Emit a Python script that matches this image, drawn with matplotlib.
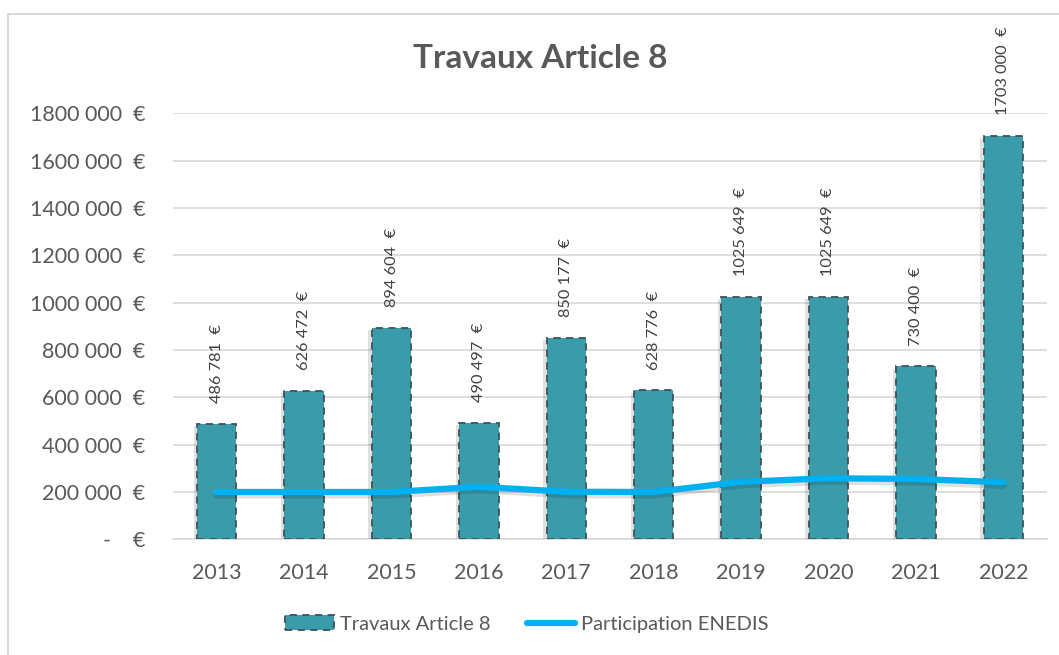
import matplotlib
matplotlib.use("Agg")
import matplotlib.pyplot as plt
import matplotlib.patheffects as pe
from matplotlib.patches import Rectangle
from matplotlib.lines import Line2D
from matplotlib.patches import Patch

plt.rcParams['font.family'] = ['Lato', 'DejaVu Sans']

years = ['2013', '2014', '2015', '2016', '2017', '2018', '2019', '2020', '2021', '2022']
travaux = [486781, 626472, 894604, 490497, 850177, 628776, 1025649, 1025649, 730400, 1703000]
enedis = [200000, 200000, 200000, 222000, 201000, 200000, 243000, 258000, 255000, 241000]
yticks = [0, 200000, 400000, 600000, 800000, 1000000, 1200000, 1400000, 1600000, 1800000]

def fmt_tick(v):
    if v == 0:
        return "-    €"
    s = f"{v:,}".replace(",", " ")
    s = s.replace(" ", "", 1) if v >= 1000000 else s
    return s + "  €"

def fmt_label(v):
    s = f"{v:,}".replace(",", " ")
    if v >= 1000000:
        s = s.replace(" ", "", 1)
    return s + "  €"

W, H = 1059, 655
fig = plt.figure(figsize=(W / 100, H / 100), dpi=100)
ax = fig.add_axes([173 / W, 1 - 539.3 / H, (1047 - 173) / W, (539.3 - 113.3) / H])

bar_color = '#3A9BAA'
line_color = '#00B0F0'
text_color = '#595959'

x = list(range(len(years)))
bars = ax.bar(x, travaux, width=0.45, color=bar_color, edgecolor='#3F5257',
              linewidth=1.3, linestyle=(0, (4, 3)), zorder=3,
              path_effects=[pe.SimplePatchShadow(offset=(-2.5, -1.5), alpha=0.12, shadow_rgbFace='#000000'), pe.Normal()])

ax.plot(x, enedis, color=line_color, linewidth=4.5, solid_capstyle='round',
        solid_joinstyle='round', zorder=4,
        path_effects=[pe.SimpleLineShadow(offset=(0, -2.5), alpha=0.12, shadow_color='#000000'), pe.Normal()])

for xi, v in zip(x, travaux):
    ax.annotate(fmt_label(v), (xi, v), xytext=(0, 15), textcoords='offset points',
                rotation=90, ha='center', va='bottom', fontsize=11.8,
                color='#404040', annotation_clip=False, clip_on=False)

ax.set_xlim(-0.5, len(years) - 0.5)
ax.set_ylim(0, 1800000)
ax.set_yticks(yticks)
ax.set_yticklabels([fmt_tick(v) for v in yticks])
ax.set_xticks(x)
ax.set_xticklabels(years)
ax.tick_params(axis='both', length=0, labelsize=15.5, labelcolor=text_color)
ax.tick_params(axis='y', pad=20)
ax.tick_params(axis='x', pad=17)
ax.grid(axis='y', color='#D9D9D9', linewidth=1.2, zorder=0)
ax.set_axisbelow(True)
for s in ['top', 'right', 'left']:
    ax.spines[s].set_visible(False)
ax.spines['bottom'].set_color('#D9D9D9')
ax.spines['bottom'].set_linewidth(1.2)

fig.text(540 / W, 1 - 59 / H, 'Travaux Article 8', ha='center', va='center',
         fontsize=24, fontweight='bold', color=text_color)

handles = [Patch(facecolor=bar_color, edgecolor='#3F5257', linestyle=(0, (4, 3)), linewidth=1.3),
           Line2D([0], [0], color=line_color, linewidth=4.5, solid_capstyle='round')]
fig.legend(handles, ['Travaux Article 8', 'Participation ENEDIS'],
           loc='center', bbox_to_anchor=(527 / W, 1 - 624 / H), ncol=2, frameon=False,
           fontsize=14.5, labelcolor=text_color, handlelength=2.4, handleheight=0.7,
           handletextpad=0.3, columnspacing=1.8)

border = Rectangle((8 / W, -0.2), 1.2, 1 - 14 / H + 0.2, transform=fig.transFigure,
                   fill=False, edgecolor='#D9D9D9', linewidth=1.5, clip_on=False)
fig.add_artist(border)

fig.savefig('out.png', dpi=100, facecolor='white')
